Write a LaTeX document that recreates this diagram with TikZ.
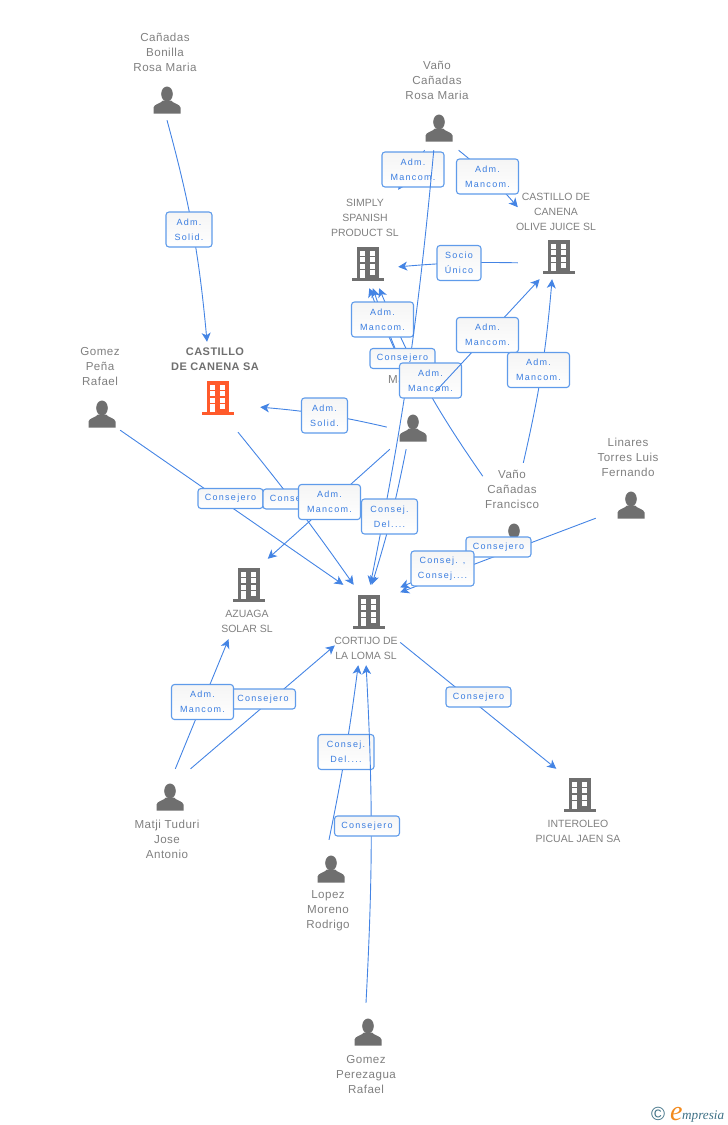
\documentclass[tikz,border=0pt]{standalone}
\usepackage{xcolor}
\usepackage{fontspec}
\usepackage{tikz}
\usetikzlibrary{arrows.meta,positioning}
\setmainfont{Liberation Sans}
\newfontfamily\namefont[LetterSpace=4]{Liberation Sans}
\newfontfamily\firmfont{Liberation Sans}
\newfontfamily\tagfont[LetterSpace=14]{Liberation Sans}
\newfontfamily\logofont{Liberation Serif}
\definecolor{linkblue}{HTML}{4484E4}
\definecolor{tagborder}{HTML}{5F9BEA}
\definecolor{tagtext}{HTML}{3A7DE0}
\definecolor{icongray}{HTML}{6F6F6F}
\definecolor{nametext}{HTML}{808080}
\definecolor{mainorange}{HTML}{FF5A2B}
\definecolor{logoteal}{HTML}{3F7186}
\definecolor{logoorange}{HTML}{F28A1E}
\tikzset{entity/.style={
    draw=none,
    inner sep=0pt,
}}
\tikzset{entityname/.style={
    align=center,
    text=nametext,
    inner sep=0pt,
    font=\namefont\fontsize{11.6}{15}\selectfont,
}}
\tikzset{firmname/.style={
    entityname,
    font=\firmfont\fontsize{10.5}{15}\selectfont,
}}
\tikzset{mainname/.style={
    align=center,
    text=icongray,
    inner sep=0pt,
    font=\namefont\bfseries\fontsize{11}{15}\selectfont,
}}
\tikzset{tag/.style={
    draw=tagborder,
    line width=1.1pt,
    top color=black!4,
    bottom color=white,
    rounded corners=3pt,
    align=center,
    inner sep=0pt,
    minimum height=35pt,
    minimum width=62pt,
    text=tagtext,
    font=\tagfont\fontsize{9}{15}\selectfont,
}}
\tikzset{onetag/.style={
    tag,
    minimum height=20pt,
    minimum width=65pt,
}}
\tikzset{arrow/.style={
    ->,>={Stealth[length=9pt,width=9pt,inset=2.5pt]},
    line width=0.9pt,
    color=linkblue,
}}
\tikzset{person/.pic={
    \fill[pic actions] (0,-6) ellipse (5.8 and 7.5);
    \fill[pic actions] (-13.5,13.5) -- (-13.5,7.5) .. controls (-13,4) and (-6,3.5) .. (-4,0.5)
        -- (4,0.5) .. controls (6,3.5) and (13,4) .. (13.5,7.5) -- (13.5,13.5) -- cycle;
}}
\tikzset{building/.pic={
    \fill[pic actions] (-11,-17) rectangle (11,14);
    \fill[pic actions] (-16,14) rectangle (16,17);
    \foreach \rowy in {-13.5,-7,-0.5} {
        \fill[white] (-8,\rowy) rectangle (-3,\rowy+5);
        \fill[white] (2,\rowy) rectangle (7,\rowy+5);
    }
    \fill[white] (2,5.5) rectangle (7,10.5);
    \fill[white] (-8,5.5) rectangle (-3,14);
}}

\begin{document}
\begin{tikzpicture}[x=1pt,y=-1pt]
    \useasboundingbox (0,0) rectangle (728,1125);

    \node[entity, minimum width=66pt, minimum height=90pt] (canadas) at (167,75) {};
    \node[entity, minimum width=90pt, minimum height=90pt] (castillo) at (215,387) {};
    \node[entity, minimum width=40pt, minimum height=88pt] (gomezpena) at (100,386) {};
    \node[entity, minimum width=66pt, minimum height=92pt] (vanorosa) at (437,104) {};
    \node[entity, minimum width=66pt, minimum height=98pt] (simply) at (365,239) {};
    \node[entity, minimum width=79pt, minimum height=88pt] (olive) at (557.5,235) {};
    \node[entity, minimum width=48pt, minimum height=79pt] (maria) at (411,409.5) {};
    \node[entity, minimum width=60pt, minimum height=89pt] (francisco) at (513,507.5) {};
    \node[entity, minimum width=64pt, minimum height=83pt] (linares) at (628,476.5) {};
    \node[entity, minimum width=65pt, minimum height=80pt] (cortijo) at (367.5,625) {};
    \node[entity, minimum width=56pt, minimum height=80pt] (azuaga) at (249,599) {};
    \node[entity, minimum width=66pt, minimum height=92pt] (matji) at (168,815) {};
    \node[entity, minimum width=48pt, minimum height=96pt] (lopez) at (329,888) {};
    \node[entity, minimum width=62pt, minimum height=94pt] (perezagua) at (366,1050) {};
    \node[entity, minimum width=88pt, minimum height=78pt] (interoleo) at (578,808) {};

    \node[entityname] (canadas-name) at (165,52) {Cañadas\\Bonilla\\Rosa Maria};
    \node[mainname] (castillo-name) at (215,359.5) {CASTILLO\\DE CANENA SA};
    \node[entityname] (gomezpena-name) at (100,366) {Gomez\\Peña\\Rafael};
    \node[entityname] (vanorosa-name) at (437,80) {Vaño\\Cañadas\\Rosa Maria};
    \node[firmname] (simply-name) at (365,218) {SIMPLY\\SPANISH\\PRODUCT SL};
    \node[firmname] (olive-name) at (556,212) {CASTILLO DE\\CANENA\\OLIVE JUICE SL};
    \node[entityname, anchor=west] (maria-name) at (388,380) {Ma};
    \node[entityname] (francisco-name) at (512,489) {Vaño\\Cañadas\\Francisco};
    \node[entityname] (linares-name) at (628,457) {Linares\\Torres Luis\\Fernando};
    \node[firmname] (cortijo-name) at (366,648.5) {CORTIJO DE\\LA LOMA SL};
    \node[firmname] (azuaga-name) at (247,621.5) {AZUAGA\\SOLAR SL};
    \node[entityname] (matji-name) at (167,839) {Matji Tuduri\\Jose\\Antonio};
    \node[entityname] (lopez-name) at (328,911) {Lopez\\Moreno\\Rodrigo};
    \node[entityname] (perezagua-name) at (366,1074) {Gomez\\Perezagua\\Rafael};
    \node[firmname] (interoleo-name) at (578,831.5) {INTEROLEO\\PICUAL JAEN SA};

    \pic[fill=icongray] at (167,100) {person};
    \pic[fill=icongray] at (439,128) {person};
    \pic[fill=icongray] at (102,414) {person};
    \pic[fill=icongray] at (413,428) {person};
    \pic[fill=icongray] at (514,537) {person};
    \pic[fill=icongray] at (631,505) {person};
    \pic[fill=icongray] at (170,797) {person};
    \pic[fill=icongray] at (331,869) {person};
    \pic[fill=icongray] at (368,1032) {person};
    \pic[fill=mainorange] at (218,398) {building};
    \pic[fill=icongray] at (368,264) {building};
    \pic[fill=icongray] at (559,257) {building};
    \pic[fill=icongray] at (249,585) {building};
    \pic[fill=icongray] at (369,612) {building};
    \pic[fill=icongray] at (580,795) {building};

    \draw[arrow] (canadas.south) to [bend left=5] (castillo.100);
    \node[tag, minimum width=46pt] (canadas-tag) at (189,229.5) {Adm.\\Solid.};

    \draw[arrow] (maria.216) to [bend right=4] (castillo.-24);
    \node[tag, minimum width=46pt] (maria-castillo-tag) at (324.5,415.5) {Adm.\\Solid.};

    \draw[arrow] (vanorosa.-105) -- (simply.north east);
    \node[tag] (vanorosa-simply-tag) at (413,169.5) {Adm.\\Mancom.};

    \draw[arrow] (vanorosa.-65) to [bend left=5] (olive.145);
    \node[tag] (vanorosa-olive-tag) at (487.5,176.5) {Adm.\\Mancom.};

    \draw[arrow] (olive.215) to [bend right=3] (simply.-40);
    \node[tag, minimum width=44pt] (olive-simply-tag) at (459,263) {Socio\\Único};

    \draw[arrow] (maria.100) to [bend left=2] (simply.-81);
    \draw[arrow] (maria.100) to [bend left=2] (simply.-85);
    \draw[arrow] (francisco.134) to [bend left=6] (simply.-74);
    \node[tag] (maria-simply-tag) at (382.5,319.5) {Adm.\\Mancom.};
    \draw[arrow] (vanorosa.-94) to [bend left=3] (cortijo.86);
    \node[onetag] (maria-consejero-tag) at (402.5,358.5) {Consejero};
    \node[tag] (francisco-simply-tag) at (430.5,380.5) {Adm.\\Mancom.};

    \draw[arrow] (maria.36) -- (olive.248);
    \node[tag] (maria-olive-tag) at (487.5,335) {Adm.\\Mancom.};

    \draw[arrow] (francisco.77) to [bend right=4] (olive.-97);
    \node[tag] (francisco-olive-tag) at (538.5,370) {Adm.\\Mancom.};

    \draw[arrow] (gomezpena.south east) -- (cortijo.121);
    \node[onetag] (gomezpena-tag) at (230.5,498.5) {Consejero};

    \draw[arrow] (castillo.-63) to [bend left=2] (cortijo.109);
    \node[onetag] (castillo-tag) at (295.5,499) {Consejero};

    \draw[arrow] (maria.242) -- (azuaga.65);
    \node[tag] (maria-azuaga-tag) at (329.5,502) {Adm.\\Mancom.};

    \draw[arrow] (maria.263) to [bend left=3] (cortijo.84);
    \node[tag, minimum width=56pt] (maria-cortijo-tag) at (389.5,516.5) {Consej.\\Del....};

    \draw[arrow] (linares.south west) -- (cortijo.45);
    \draw[arrow] (francisco.south west) -- (cortijo.49);
    \node[onetag] (linares-tag) at (498.5,547) {Consejero};
    \node[tag, minimum width=63pt] (francisco-tag) at (442.5,568.5) {Consej. ,\\Consej....};

    \draw[arrow] (matji.64) -- (cortijo.212);
    \node[onetag] (matji-cortijo-tag) at (263,699) {Consejero};

    \draw[arrow] (matji.81) -- (azuaga.-117);
    \node[tag] (matji-azuaga-tag) at (202.5,702) {Adm.\\Mancom.};

    \draw[arrow] (lopez.north) to [bend right=2] (cortijo.-103);
    \node[tag, minimum width=56pt] (lopez-tag) at (346,752) {Consej.\\Del....};

    \draw[arrow] (perezagua.north) to [bend right=3] (cortijo.-92);
    \node[onetag] (perezagua-tag) at (367,826) {Consejero};

    \draw[arrow] (cortijo.-28) -- (interoleo.119);
    \node[onetag] (interoleo-tag) at (478.5,697) {Consejero};

    \node[inner sep=0pt, text=logoteal, font=\fontsize{19}{19}\selectfont] (logo-sign) at (658,1114) {©};
    \node[inner sep=0pt, anchor=base west, text=logoorange, font=\logofont\itshape\fontsize{28}{28}\selectfont] (logo-e) at (670,1120) {e};
    \node[inner sep=0pt, anchor=base west, text=logoteal, font=\logofont\itshape\fontsize{13.2}{15}\selectfont] (logo-word) at (682,1119) {mpresia};
\end{tikzpicture}
\end{document}
